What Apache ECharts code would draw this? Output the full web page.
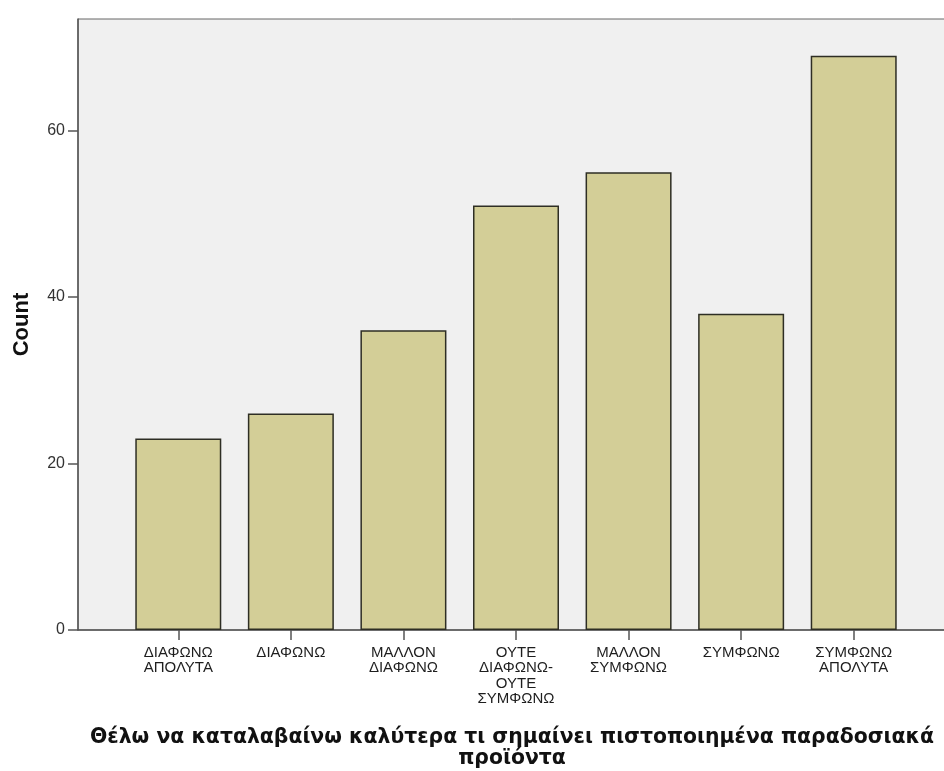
<!DOCTYPE html>
<html>
<head>
<meta charset="utf-8">
<script src="https://cdn.jsdelivr.net/npm/echarts@6/dist/echarts.min.js"></script>
<style>
  html, body { margin: 0; padding: 0; background: #ffffff; }
  #chart { width: 944px; height: 771px; }
</style>
</head>
<body>
<div id="chart"></div>
<script>
// Response categories (Likert scale)
const categories = [
  'ΔΙΑΦΩΝΩ ΑΠΟΛΥΤΑ',
  'ΔΙΑΦΩΝΩ',
  'ΜΑΛΛΟΝ ΔΙΑΦΩΝΩ',
  'ΟΥΤΕ ΔΙΑΦΩΝΩ-ΟΥΤΕ ΣΥΜΦΩΝΩ',
  'ΜΑΛΛΟΝ ΣΥΜΦΩΝΩ',
  'ΣΥΜΦΩΝΩ',
  'ΣΥΜΦΩΝΩ ΑΠΟΛΥΤΑ'
];
// Number of respondents per category
const counts = [23, 26, 36, 51, 55, 38, 69];
// Value-axis tick labels
const yTicks = [0, 20, 40, 60];
const yMax = 73.4;

const axisTitle = 'Θέλω να καταλαβαίνω καλύτερα τι σημαίνει πιστοποιημένα παραδοσιακά\nπροϊόντα';
const yTitle = 'Count';

const font = '"Liberation Sans", Arial, sans-serif';
const titleFont = '"DejaVu Sans", Verdana, sans-serif';
const axisColor = '#555555';

const chart = echarts.init(document.getElementById('chart'), null, { renderer: 'canvas' });

chart.setOption({
  animation: false,
  backgroundColor: '#ffffff',
  grid: [
    // frame: shaded plot area with axis lines
    { left: 78, top: 19, right: -2, bottom: 141, show: true, outerBoundsMode: 'none',
      backgroundColor: '#f0f0f0', borderColor: '#666666', borderWidth: 1 },
    // bars
    { left: 122, top: 19, right: 34, bottom: 141, outerBoundsMode: 'none' }
  ],
  xAxis: [
    {
      gridIndex: 0, type: 'value', min: 0, max: 1,
      axisLine: { show: true, lineStyle: { color: axisColor, width: 1.5 } },
      axisTick: { show: false }, axisLabel: { show: false }, splitLine: { show: false },
      name: axisTitle, nameLocation: 'middle', nameGap: 97,
      nameTextStyle: { fontFamily: titleFont, fontWeight: 'bold', fontSize: 20.4, color: '#111111', lineHeight: 21 }
    },
    {
      gridIndex: 1, type: 'category', data: categories,
      axisLine: { show: false },
      axisTick: { show: true, alignWithLabel: true, length: 10, lineStyle: { color: axisColor, width: 1.5 } },
      axisLabel: {
        interval: 0, margin: 15, fontFamily: font, fontSize: 15, lineHeight: 15.5, color: '#1e1e1e',
        formatter: (v) => v.replace(/-/g, '-\n').replace(/ /g, '\n')
      }
    }
  ],
  yAxis: [
    {
      gridIndex: 0, type: 'value', min: 0, max: yMax,
      axisLine: { show: true, lineStyle: { color: axisColor, width: 1.5 } },
      axisTick: { show: true, length: 10, customValues: yTicks, lineStyle: { color: axisColor, width: 1.5 } },
      axisLabel: { customValues: yTicks, margin: 13, fontFamily: font, fontSize: 16, color: '#333333' },
      splitLine: { show: false },
      name: yTitle, nameLocation: 'middle', nameRotate: 90, nameGap: 45,
      nameTextStyle: { fontFamily: font, fontWeight: 'bold', fontSize: 22, color: '#111111' }
    },
    {
      gridIndex: 1, type: 'value', min: 0, max: yMax, show: false
    }
  ],
  series: [
    {
      type: 'bar', xAxisIndex: 1, yAxisIndex: 1,
      data: counts,
      barWidth: 86,
      itemStyle: { color: '#d3ce97', borderColor: '#2e2e24', borderWidth: 1.5 }
    }
  ]
});
</script>
</body>
</html>
